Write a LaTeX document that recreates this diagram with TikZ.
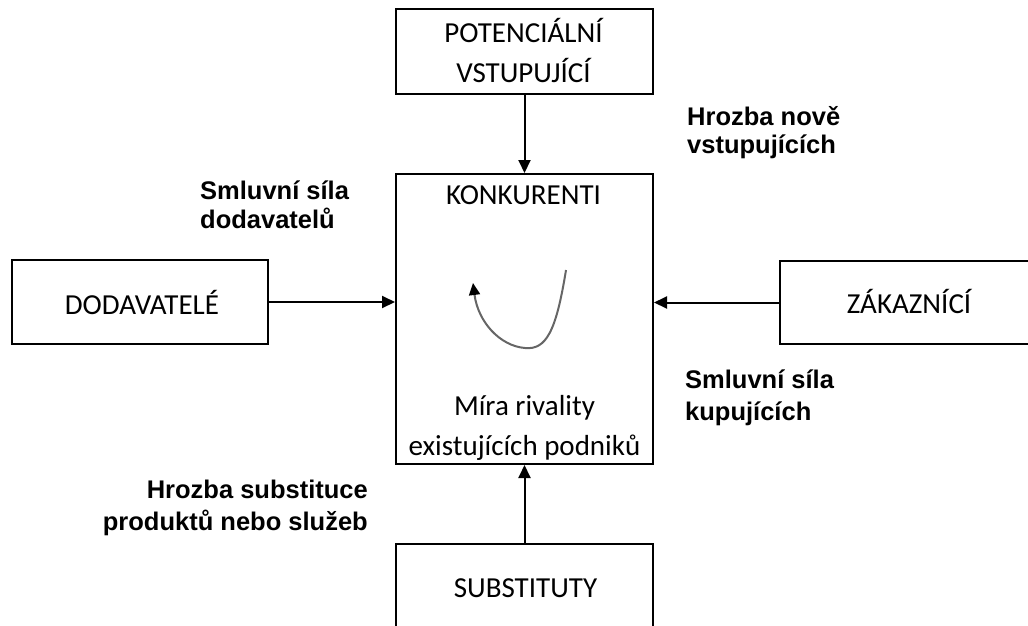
\documentclass[tikz,border=0pt]{standalone}
\usepackage{fontspec}
\setmainfont{Carlito}
\newfontfamily\labfont{Liberation Sans}
\usetikzlibrary{arrows.meta}
\begin{document}
\begin{tikzpicture}[x=1pt,y=-1pt,
  box/.style={draw, line width=2pt, inner sep=0pt},
  boxtext/.style={font=\fontsize{29}{40}\selectfont, anchor=base, inner sep=0pt},
  force/.style={font=\labfont\bfseries\fontsize{25.5}{29}\selectfont, inner sep=0pt},
  arr/.style={line width=2pt, -{Triangle[length=13pt,width=12pt]}},
  rival/.style={line width=2pt, draw=black!60, -{Triangle[length=12pt,width=11pt,color=black]}}]
\useasboundingbox (0,0) rectangle (1028,625);
\clip (0,0) rectangle (1028,625);
% boxes
\node[box, minimum width=257pt, minimum height=85pt] (pot) at (524.5,51.5) {};
\node[box, minimum width=257pt, minimum height=290pt] (konk) at (524.5,319) {};
\node[box, minimum width=257pt, minimum height=100pt] (sub) at (524.5,594) {};
\node[box, minimum width=256pt, minimum height=84pt] (dod) at (140,302) {};
\node[box, minimum width=260pt, minimum height=83pt] (zak) at (910,302.5) {};
% texts in boxes
\node[boxtext] (t1) at (523.5,42) {POTENCIÁLNÍ};
\node[boxtext] (t2) at (523.5,82) {VSTUPUJÍCÍ};
\node[boxtext] (t3) at (523.5,204) {KONKURENTI};
\node[boxtext] (t4) at (524.5,415) {Míra rivality};
\node[boxtext] (t5) at (524.5,455) {existujících podniků};
\node[boxtext] (t6) at (142,314) {DODAVATELÉ};
\node[boxtext] (t7) at (909,313) {ZÁKAZNÍCÍ};
\node[boxtext] (t8) at (525.5,597) {SUBSTITUTY};
% connectors
\draw[arr] (pot.south) -- (konk.north);
\draw[arr] (sub.north) -- (konk.south);
\draw[arr] (dod.east) -- (dod.east -| konk.west);
\draw[arr] (zak.west) -- (zak.west -| konk.east);
% rivalry curve
\draw[rival] (566,270) .. controls (556,332) and (546,350) .. (525,348)
  .. controls (500,346) and (478,322) .. (473,283);
% force labels
\node[force, anchor=base west] (f1) at (687,125)
  {\begin{tabular}[t]{@{}l@{}}Hrozba nově\\[-1pt]vstupujících\end{tabular}};
\node[force, anchor=base west] (f2) at (200,199)
  {\begin{tabular}[t]{@{}l@{}}Smluvní síla\\dodavatelů\end{tabular}};
\node[force, anchor=base west] (f3) at (685,388)
  {\begin{tabular}[t]{@{}l@{}}Smluvní síla\\[3pt]kupujících\end{tabular}};
\node[force, anchor=base east] (f4) at (368,498)
  {\begin{tabular}[t]{@{}r@{}}Hrozba substituce\\[3pt]produktů nebo služeb\end{tabular}};
\end{tikzpicture}
\end{document}
